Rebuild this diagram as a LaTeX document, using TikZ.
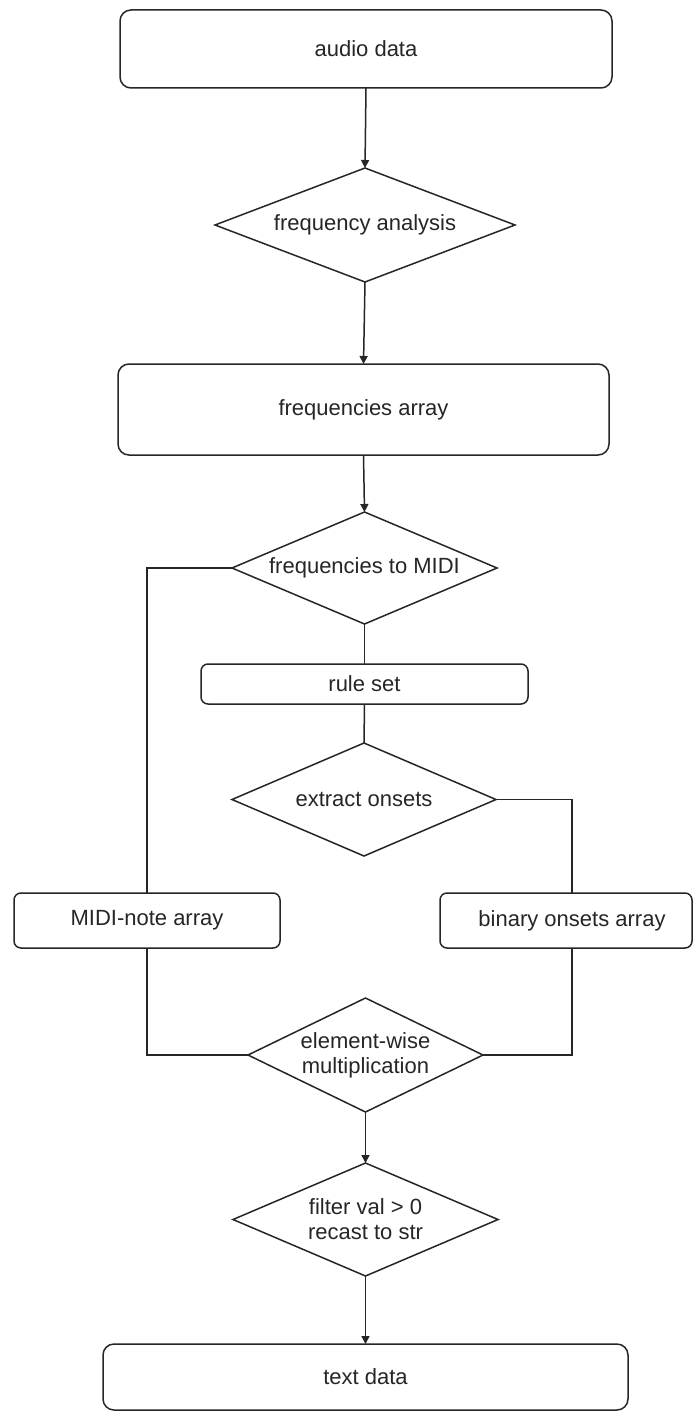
\documentclass[tikz,border=0pt]{standalone}
\usepackage{fontspec}
\setmainfont{Liberation Sans}
\usetikzlibrary{shapes.geometric,arrows.meta}
\begin{document}
\begin{tikzpicture}[x=1pt,y=-1pt,
  every node/.style={font=\fontsize{22}{25}\selectfont, text=black!85},
  bigbox/.style={draw=black!85, line width=1.5pt, rounded corners=11pt, inner sep=0pt, outer sep=0pt},
  smallbox/.style={draw=black!85, line width=1.5pt, rounded corners=7pt, inner sep=0pt, outer sep=0pt},
  decision/.style={draw=black!85, line width=1.5pt, diamond, inner sep=0pt, outer sep=0pt},
  flow/.style={draw=black!85, line width=1.5pt},
  arrow/.style={flow, -{Triangle[length=8pt,width=8pt]}}]

% canvas
\fill[white] (0,0) rectangle (694,1418);
\useasboundingbox (0,0) rectangle (694,1418);

% main column
\node[bigbox, minimum width=492pt, minimum height=78pt] (audio) at (366,49) {audio data};
\node[decision, minimum width=300pt, minimum height=114pt, aspect=2.63] (fa) at (365,225) {frequency analysis};
\node[bigbox, minimum width=491pt, minimum height=91pt] (farr) at (363.5,409.5) {frequencies array};
\node[decision, minimum width=265pt, minimum height=112pt, aspect=2.37] (f2m) at (364.5,568) {frequencies to MIDI};
\node[smallbox, minimum width=327pt, minimum height=40pt] (rules) at (364.5,684) {rule set};
\node[decision, minimum width=264pt, minimum height=113pt, aspect=2.34] (ons) at (364,799.5) {extract onsets};

% side branches
\node[smallbox, minimum width=266pt, minimum height=55pt] (midi) at (147,920.5) {MIDI-note array};
\node[smallbox, minimum width=252pt, minimum height=55pt] (bin) at (566,920.5) {\hspace*{12pt}binary onsets array};

% merge and output
\node[decision, minimum width=235pt, minimum height=114pt, aspect=2.06, align=center] (ew) at (365.5,1055) {element-wise\\multiplication};
\node[decision, minimum width=265pt, minimum height=113pt, aspect=2.35, align=center] (filt) at (365.5,1219.5) {filter val > 0\\recast to str};
\node[bigbox, minimum width=525pt, minimum height=66pt] (txt) at (365.5,1377) {text data};

% connectors
\draw[arrow] (audio.south) -- (fa.north);
\draw[arrow] (fa.south) -- (farr.north);
\draw[arrow] (farr.south) -- (f2m.north);
\draw[flow] (f2m.south) -- (rules.north);
\draw[flow] (rules.south) -- (ons.north);
\draw[flow] (f2m.west) -| (midi.north);
\draw[flow] (ons.east) -| ([xshift=6pt]bin.north);
\draw[flow] (midi.south) |- (ew.west);
\draw[flow] ([xshift=6pt]bin.south) |- (ew.east);
\draw[arrow] (ew.south) -- (filt.north);
\draw[arrow] (filt.south) -- (txt.north);
\end{tikzpicture}
\end{document}
